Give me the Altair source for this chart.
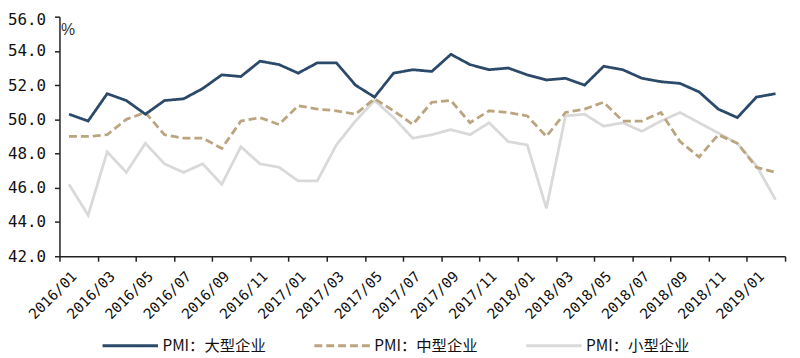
import json
import altair as alt
import pandas as pd

months = [
    "2016/01", "2016/02", "2016/03", "2016/04", "2016/05", "2016/06", "2016/07", "2016/08",
    "2016/09", "2016/10", "2016/11", "2016/12", "2017/01", "2017/02", "2017/03", "2017/04",
    "2017/05", "2017/06", "2017/07", "2017/08", "2017/09", "2017/10", "2017/11", "2017/12",
    "2018/01", "2018/02", "2018/03", "2018/04", "2018/05", "2018/06", "2018/07", "2018/08",
    "2018/09", "2018/10", "2018/11", "2018/12", "2019/01", "2019/02",
]
large = [50.3, 49.9, 51.5, 51.1, 50.3, 51.1, 51.2, 51.8, 52.6, 52.5, 53.4, 53.2, 52.7,
         53.3, 53.3, 52.0, 51.3, 52.7, 52.9, 52.8, 53.8, 53.2, 52.9, 53.0, 52.6, 52.3,
         52.4, 52.0, 53.1, 52.9, 52.4, 52.2, 52.1, 51.6, 50.6, 50.1, 51.3, 51.5]
medium = [49.0, 49.0, 49.1, 50.0, 50.4, 49.1, 48.9, 48.9, 48.3, 49.9, 50.1, 49.7, 50.8,
          50.6, 50.5, 50.3, 51.2, 50.5, 49.7, 51.0, 51.1, 49.8, 50.5, 50.4, 50.2, 49.0,
          50.4, 50.6, 51.0, 49.9, 49.9, 50.4, 48.7, 47.8, 49.1, 48.6, 47.2, 46.9]
small = [46.2, 44.4, 48.1, 46.9, 48.6, 47.4, 46.9, 47.4, 46.2, 48.4, 47.4, 47.2, 46.4,
         46.4, 48.5, 49.9, 51.1, 50.1, 48.9, 49.1, 49.4, 49.1, 49.8, 48.7, 48.5, 44.8,
         50.2, 50.3, 49.6, 49.8, 49.3, 49.9, 50.4, 49.8, 49.2, 48.6, 47.3, 45.3]

series_names = ["PMI：大型企业", "PMI：中型企业", "PMI：小型企业"]
series_values = [large, medium, small]
colors = ["#2B4A6A", "#BBA57F", "#D9D9D9"]
dashes = [[1, 0], [8, 4], [1, 0]]
y_ticks = [42, 44, 46, 48, 50, 52, 54, 56]
tick_labels = months[::2]

rows = []
for name, vals in zip(series_names, series_values):
    for i, (m, v) in enumerate(zip(months, vals)):
        rows.append({"pos": i + 0.5, "month": m, "value": v, "series": name})
df = pd.DataFrame(rows)

n = len(months)
y_top = y_ticks[-1]
label_expr = "datum.value < %d ? %s[datum.value / 2] : ''" % (n, json.dumps(tick_labels, ensure_ascii=False))

base = alt.Chart(df).mark_line(strokeWidth=2.8).encode(
    x=alt.X(
        "pos:Q",
        scale=alt.Scale(domain=[0, n], nice=False, zero=False),
        axis=alt.Axis(
            values=list(range(0, n + 1, 2)),
            labelExpr=label_expr,
            labelAngle=-45,
            labelAlign="right",
            labelBaseline="middle",
            labelOffset=15,
            labelPadding=13,
            labelOverlap=False,
            labelFlush=False,
            labelFont="DejaVu Sans Mono",
            labelFontSize=14.5,
            labelColor="#111111",
            tickSize=5,
            tickColor="#222222",
            domainColor="#222222",
            domainWidth=1.5,
            tickWidth=1.5,
            grid=False,
            title=None,
        ),
    ),
    y=alt.Y(
        "value:Q",
        scale=alt.Scale(domain=[42, 56], nice=False, zero=False),
        axis=alt.Axis(
            values=y_ticks,
            format=".1f",
            labelFont="DejaVu Sans Mono",
            labelFontSize=16,
            labelColor="#111111",
            labelPadding=9,
            labelOffset={"condition": {"test": "datum.value == %d" % y_top, "value": 3}, "value": 0},
            tickSize=5,
            tickColor="#222222",
            domainColor="#222222",
            domainWidth=1.5,
            tickWidth=1.5,
            grid=False,
            title="%",
            titleAngle=0,
            titleX=1,
            titleY=18,
            titleAlign="left",
            titleBaseline="alphabetic",
            titleFont="Liberation Sans",
            titleFontSize=16,
            titleFontWeight="normal",
            titleColor="#333333",
        ),
    ),
    color=alt.Color("series:N", scale=alt.Scale(domain=series_names, range=colors), title=None),
    strokeDash=alt.StrokeDash("series:N", scale=alt.Scale(domain=series_names, range=dashes), title=None),
)

layers = [base.transform_filter(alt.datum.series == s) for s in reversed(series_names)]
chart = alt.layer(*layers).properties(
    width=733,
    height=242,
    autosize=alt.AutoSizeParams(type="none"),
    padding={"left": 52, "top": 7, "right": 7, "bottom": 97},
).configure_view(stroke=None).configure_legend(
    orient="none",
    legendX=42,
    legendY=303,
    direction="horizontal",
    columns=3,
    gridAlign="all",
    columnPadding=42,
    padding=0,
    symbolType="stroke",
    symbolSize=3136,
    symbolStrokeWidth=3,
    labelFont="Noto Sans CJK SC",
    labelFontSize=15.5,
    labelColor="#111111",
    labelOffset=3,
)

chart.save("out.html", embed_options={"renderer": "svg", "actions": False})
